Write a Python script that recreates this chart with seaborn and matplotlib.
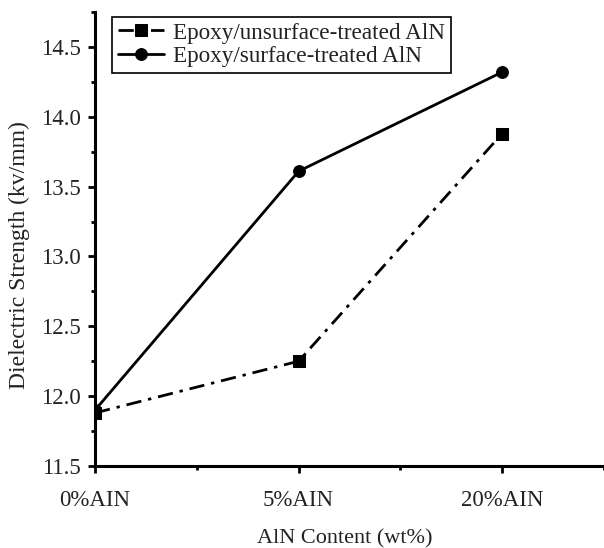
import matplotlib
matplotlib.use("Agg")
import matplotlib.pyplot as plt
import seaborn as sns
import pandas as pd
from matplotlib.ticker import MultipleLocator, FixedLocator, FormatStrFormatter

# Dielectric strength of epoxy composites vs. AlN filler content
categories = ["0%AIN", "5%AIN", "20%AIN"]
untreated = [11.88, 12.25, 13.88]
treated = [11.90, 13.61, 14.32]
series_names = ["Epoxy/unsurface-treated AlN", "Epoxy/surface-treated AlN"]

sns.set_theme(style="ticks")
plt.rcParams["font.family"] = ["Liberation Serif", "DejaVu Serif"]

positions = list(range(len(categories)))
df = pd.DataFrame({
    "pos": positions * 2,
    "value": untreated + treated,
    "series": [series_names[0]] * 3 + [series_names[1]] * 3,
})

fig = plt.figure(figsize=(6.04, 5.48), dpi=100)
ax = fig.add_axes([95 / 604, 82 / 548, 509 / 604, 454 / 548])

sns.lineplot(data=df[df.series == series_names[0]], x="pos", y="value", ax=ax,
             color="black", linewidth=2.0, marker="s", markersize=8,
             markeredgecolor="black", label=series_names[0])
ax.lines[-1].set_dashes([5.5, 2.5, 1.2, 2.5])
sns.lineplot(data=df[df.series == series_names[1]], x="pos", y="value", ax=ax,
             color="black", linewidth=2.0, marker="o", markersize=8.5,
             markeredgecolor="black", label=series_names[1])

ax.set_xlim(0, 2.5)
ax.set_ylim(11.5, 14.75)
ax.xaxis.set_major_locator(FixedLocator(positions))
ax.set_xticklabels(categories)
ax.xaxis.set_minor_locator(FixedLocator([0.5, 1.5, 2.5]))
ax.yaxis.set_major_locator(MultipleLocator(0.5))
ax.yaxis.set_minor_locator(MultipleLocator(0.25))
ax.yaxis.set_major_formatter(FormatStrFormatter("%.1f"))

for side in ["top", "right"]:
    ax.spines[side].set_visible(False)
for side in ["left", "bottom"]:
    ax.spines[side].set_linewidth(2.2)
    ax.spines[side].set_color("black")

ax.tick_params(axis="both", which="major", direction="out", length=5, width=2,
               color="black", labelsize=16.5, labelcolor="#222222", pad=5)
ax.tick_params(axis="both", which="minor", direction="out", length=3, width=2,
               color="black")
ax.tick_params(axis="x", which="major", pad=12)

ax.set_xlabel("AlN Content (wt%)", fontsize=16, color="#222222")
ax.set_ylabel("Dielectric Strength (kv/mm)", fontsize=17, color="#222222")
ax.xaxis.set_label_coords(0.491, -0.140)
ax.yaxis.set_label_coords(-0.128, 0.465)

leg = ax.legend(loc="upper left", bbox_to_anchor=(0.033, 0.99), fontsize=16.7,
                frameon=True, fancybox=False, edgecolor="black", framealpha=1,
                handlelength=2.0, handletextpad=0.4, borderpad=0.25,
                labelspacing=0.1, borderaxespad=0)
leg.get_frame().set_linewidth(1.2)
for t in leg.get_texts():
    t.set_color("#222222")

fig.savefig("out.png", dpi=100)
